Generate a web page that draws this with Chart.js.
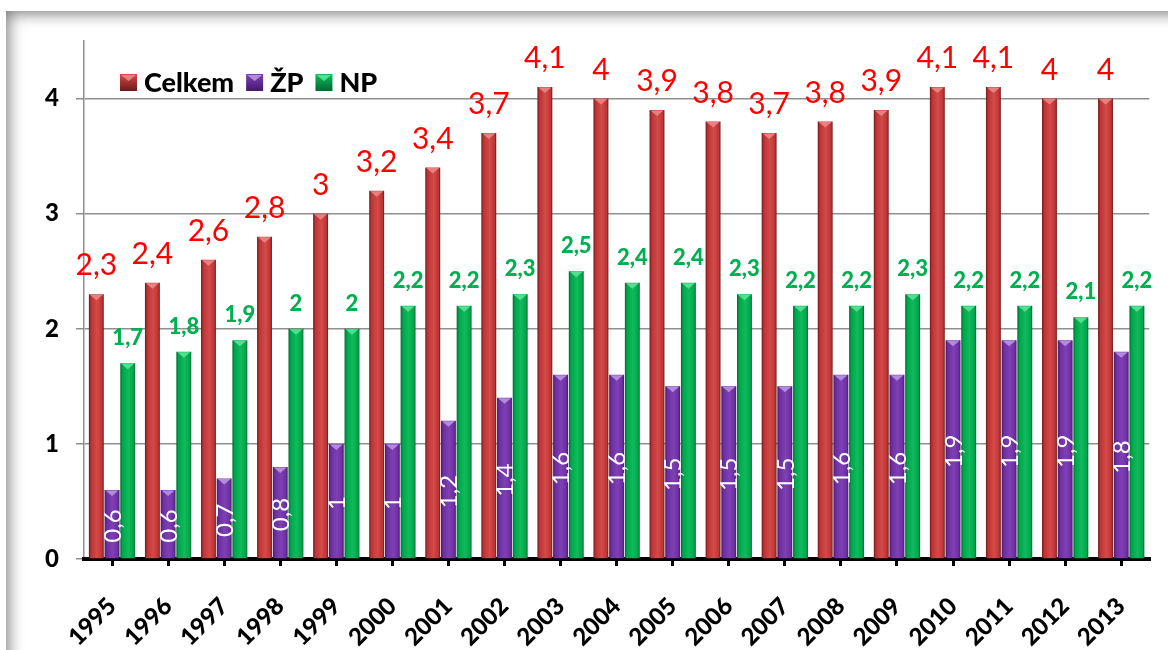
<!DOCTYPE html>
<html>
<head>
<meta charset="utf-8">
<script src="https://cdn.jsdelivr.net/npm/chart.js@4.4.1/dist/chart.umd.min.js"></script>
<style>
  html, body { margin: 0; padding: 0; background: #fff; overflow: hidden; }
  #frame {
    position: absolute; left: 6px; top: 11px; width: 1240px; height: 720px;
    background: #fff;
    box-shadow: inset 0 0 16px 2px rgba(0,0,0,0.55);
  }
  #wrap { position: absolute; left: 0; top: 0; width: 1168px; height: 650px; }
</style>
</head>
<body>
<div id="frame"></div>
<div id="wrap"><canvas id="c" width="1168" height="650"></canvas></div>
<script>
const years = ['1995','1996','1997','1998','1999','2000','2001','2002','2003','2004','2005','2006','2007','2008','2009','2010','2011','2012','2013'];
const celkem = [2.3, 2.4, 2.6, 2.8, 3, 3.2, 3.4, 3.7, 4.1, 4, 3.9, 3.8, 3.7, 3.8, 3.9, 4.1, 4.1, 4, 4];
const zp = [0.6, 0.6, 0.7, 0.8, 1, 1, 1.2, 1.4, 1.6, 1.6, 1.5, 1.5, 1.5, 1.6, 1.6, 1.9, 1.9, 1.9, 1.8];
const np = [1.7, 1.8, 1.9, 2, 2, 2.2, 2.2, 2.3, 2.5, 2.4, 2.4, 2.3, 2.2, 2.2, 2.3, 2.2, 2.2, 2.1, 2.2];
const seriesNames = ['Celkem', 'ŽP', 'NP'];
const yTicks = [0, 1, 2, 3, 4];

const FONT = 'Lato, "Open Sans", sans-serif';
const palettes = [
  { dark: '#6e1a1a', mid: '#bb3535', light: '#d44a48', tri: '#e88080', solid: '#c0393a', label: '#ff0000' },
  { dark: '#45186a', mid: '#6c2f9e', light: '#7f40b6', tri: '#b28ae0', solid: '#7030a0', label: '#ffffff' },
  { dark: '#006a30', mid: '#00a54c', light: '#10bb5c', tri: '#50e090', solid: '#00b050', label: '#00b050' }
];

function fmt(v) { return String(v).replace('.', ','); }

const gradientPlugin = {
  id: 'gradientBars',
  afterDatasetsUpdate(chart) {
    const ctx = chart.ctx;
    chart.data.datasets.forEach((ds, i) => {
      const p = palettes[i];
      chart.getDatasetMeta(i).data.forEach(el => {
        const l = el.x - el.width / 2, r = el.x + el.width / 2;
        const g = ctx.createLinearGradient(l, 0, r, 0);
        g.addColorStop(0, p.dark);
        g.addColorStop(0.15, p.mid);
        g.addColorStop(0.55, p.light);
        g.addColorStop(0.88, p.mid);
        g.addColorStop(1, p.dark);
        el.options = Object.assign({}, el.options, { backgroundColor: g });
      });
    });
  },
  afterDatasetsDraw(chart) {
    const ctx = chart.ctx;
    ctx.save();
    chart.data.datasets.forEach((ds, i) => {
      const p = palettes[i];
      chart.getDatasetMeta(i).data.forEach(el => {
        const l = el.x - el.width / 2, r = el.x + el.width / 2;
        ctx.fillStyle = p.tri;
        ctx.beginPath();
        ctx.moveTo(l + 1, el.y + 0.5);
        ctx.lineTo(r - 1, el.y + 0.5);
        ctx.lineTo(el.x, el.y + 6);
        ctx.closePath();
        ctx.fill();
      });
    });
    ctx.restore();
  }
};

const labelsPlugin = {
  id: 'valueLabels',
  afterDraw(chart) {
    const ctx = chart.ctx;
    ctx.save();
    chart.getDatasetMeta(0).data.forEach((el, k) => {
      ctx.font = '30px ' + FONT;
      ctx.fillStyle = palettes[0].label;
      ctx.textAlign = 'center';
      ctx.textBaseline = 'alphabetic';
      ctx.fillText(fmt(celkem[k]), el.x, el.y - 19);
    });
    chart.getDatasetMeta(2).data.forEach((el, k) => {
      ctx.font = '900 22px ' + FONT;
      ctx.fillStyle = palettes[2].label;
      ctx.textAlign = 'center';
      ctx.textBaseline = 'alphabetic';
      ctx.fillText(fmt(np[k]), el.x, el.y - 18);
    });
    chart.getDatasetMeta(1).data.forEach((el, k) => {
      const cy = (el.y + el.base) / 2 + 2;
      ctx.save();
      ctx.translate(el.x + 1, cy);
      ctx.rotate(-Math.PI / 2);
      ctx.font = '24px ' + FONT;
      ctx.fillStyle = palettes[1].label;
      ctx.textAlign = 'center';
      ctx.textBaseline = 'middle';
      ctx.fillText(fmt(zp[k]), 0, 0);
      ctx.restore();
    });
    const ca = chart.chartArea;
    let x = ca.left + 36;
    const top = 74;
    ctx.font = '900 27px ' + FONT;
    ctx.textAlign = 'left';
    ctx.textBaseline = 'middle';
    seriesNames.forEach((name, i) => {
      const p = palettes[i];
      const g = ctx.createLinearGradient(x, top, x, top + 17);
      g.addColorStop(0, p.light);
      g.addColorStop(1, p.dark);
      ctx.fillStyle = g;
      ctx.fillRect(x, top, 17, 17);
      ctx.fillStyle = p.tri;
      ctx.beginPath();
      ctx.moveTo(x + 1, top + 1); ctx.lineTo(x + 16, top + 1); ctx.lineTo(x + 8.5, top + 7); ctx.closePath(); ctx.fill();
      ctx.fillStyle = '#000';
      ctx.fillText(name, x + 24, top + 9);
      x += 24 + ctx.measureText(name).width + 12;
    });
    ctx.restore();
  }
};

new Chart(document.getElementById('c'), {
  type: 'bar',
  data: {
    labels: years,
    datasets: [
      { label: seriesNames[0], data: celkem, backgroundColor: palettes[0].solid, borderWidth: 0 },
      { label: seriesNames[1], data: zp, backgroundColor: palettes[1].solid, borderWidth: 0 },
      { label: seriesNames[2], data: np, backgroundColor: palettes[2].solid, borderWidth: 0 }
    ]
  },
  options: {
    responsive: false,
    animation: false,
    events: [],
    layout: { padding: { top: 41, right: 16, left: 0, bottom: 0 } },
    datasets: { bar: { barPercentage: 0.95, categoryPercentage: 0.84 } },
    plugins: { legend: { display: false }, tooltip: { enabled: false } },
    scales: {
      y: {
        min: 0, max: 4.5,
        afterBuildTicks: s => { s.ticks = yTicks.map(v => ({ value: v })); },
        afterFit: s => { s.width = 84; },
        grid: { color: '#8f8f8f', lineWidth: 1.5, tickLength: 8 },
        border: { color: '#8f8f8f', width: 1.5 },
        ticks: { font: { family: FONT, size: 24, weight: 900 }, color: '#000', padding: 17 }
      },
      x: {
        afterFit: s => { s.height = 91; },
        grid: { offset: false, drawOnChartArea: false, color: '#000', lineWidth: 3, tickLength: 7 },
        border: { color: '#000', width: 4 },
        ticks: { font: { family: FONT, size: 24, weight: 900 }, color: '#000', maxRotation: 45, minRotation: 45, autoSkip: false, padding: 26 }
      }
    }
  },
  plugins: [gradientPlugin, labelsPlugin]
});
</script>
</body>
</html>
